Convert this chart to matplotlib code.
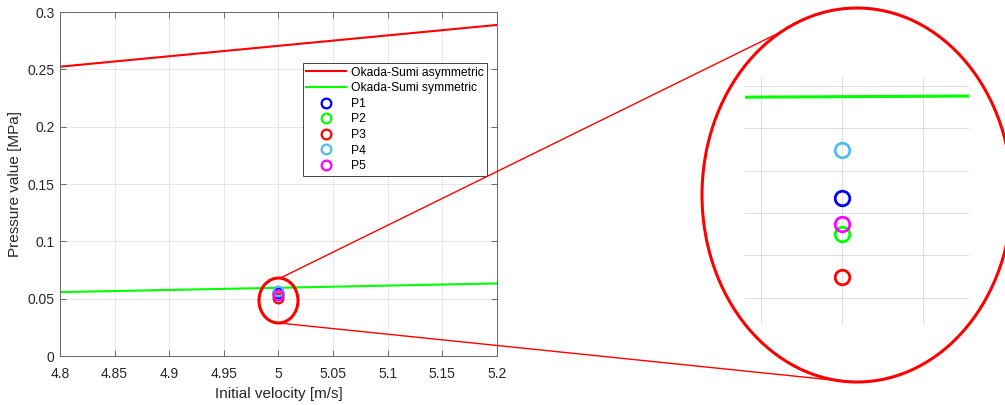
import numpy as np
import matplotlib
matplotlib.use("Agg")
import matplotlib.pyplot as plt
from matplotlib.patches import Ellipse

plt.rcParams['font.family'] = ['Liberation Sans', 'DejaVu Sans']

# data
velocity = [4.8, 5.2]
p_asym = [0.2523, 0.2887]
p_sym = [0.0557, 0.0633]

point_names = ["P1", "P2", "P3", "P4", "P5"]
point_v = [5.0, 5.0, 5.0, 5.0, 5.0]
point_p = [0.0547, 0.0530, 0.0510, 0.0570, 0.0535]
point_colors = ["#0000ff", "#00ff00", "#ff0000", "#4dbeee", "#ff00ff"]

xticks = [4.8, 4.85, 4.9, 4.95, 5.0, 5.05, 5.1, 5.15, 5.2]
xticklabels = ["4.8", "4.85", "4.9", "4.95", "5", "5.05", "5.1", "5.15", "5.2"]
yticks = [0, 0.05, 0.1, 0.15, 0.2, 0.25, 0.3]
yticklabels = ["0", "0.05", "0.1", "0.15", "0.2", "0.25", "0.3"]

W, H = 1005, 405
txt = "#262626"
fig = plt.figure(figsize=(W / 100, H / 100), dpi=100)

# main axes
ax = fig.add_axes([60 / W, 1 - 356 / H, 437 / W, 344 / H])
ax.plot(velocity, p_asym, color="#ff0000", lw=1.5, label="Okada-Sumi asymmetric")
ax.plot(velocity, p_sym, color="#00ff00", lw=1.5, label="Okada-Sumi symmetric")
for v, p, c, n in zip(point_v, point_p, point_colors, point_names):
    ax.plot(v, p, 'o', mfc="none", mec=c, mew=1.6, ms=7, label=n, ls="none")
ax.set_xlim(4.8, 5.2)
ax.set_ylim(0, 0.3)
ax.set_xticks(xticks)
ax.set_xticklabels(xticklabels)
ax.set_yticks(yticks)
ax.set_yticklabels(yticklabels)
ax.tick_params(direction="in", length=4, width=0.6, colors="#555555", labelcolor=txt,
               labelsize=10, top=True, right=True)
ax.tick_params(axis="x", pad=8)
ax.tick_params(axis="y", pad=4)
for s in ax.spines.values():
    s.set_color("#666666")
    s.set_linewidth(0.7)
ax.grid(True, color="#e3e3e3", lw=0.6)
ax.set_axisbelow(True)
ax.set_xlabel("Initial velocity [m/s]", fontsize=11, color=txt, labelpad=4)
ax.set_ylabel("Pressure value [MPa]", fontsize=11, color=txt, labelpad=4)
leg = ax.legend(loc="upper right", bbox_to_anchor=(0.977, 0.852), borderaxespad=0,
                fontsize=8.7, fancybox=False, framealpha=1, edgecolor="#444444",
                handlelength=3.3, handletextpad=0.35, labelspacing=0.3,
                borderpad=0.3)
leg.get_frame().set_linewidth(0.7)

# small ellipse around the points (data units)
zc = (5.0, 0.0484)
zw, zh = 0.0357, 0.0392
ax.add_patch(Ellipse(zc, zw, zh, fill=False, ec="#ff0000", lw=2.2, zorder=5))

# zoomed inset
ax2 = fig.add_axes([745 / W, 1 - 324 / H, 224 / W, 247 / H])
ax2.plot(velocity, p_asym, color="#ff0000", lw=2.2)
ax2.plot(velocity, p_sym, color="#00ff00", lw=2.2)
for v, p, c in zip(point_v, point_p, point_colors):
    ax2.plot(v, p, 'o', mfc="none", mec=c, mew=2.0, ms=10.5)
ax2.set_xlim(4.998802, 5.001568)
ax2.set_ylim(0.04876, 0.06043)
ax2.set_xticks([4.999, 5.0, 5.001])
ax2.set_yticks([0.05, 0.052, 0.054, 0.056, 0.058, 0.06])
ax2.tick_params(length=0, labelbottom=False, labelleft=False)
for s in ax2.spines.values():
    s.set_visible(False)
ax2.grid(True, color="#dddddd", lw=0.7)
ax2.set_axisbelow(True)
ax2.patch.set_alpha(0)

# overlay in pixel coordinates for the magnifier
ov = fig.add_axes([0, 0, 1, 1], zorder=10)
ov.set_xlim(0, W)
ov.set_ylim(H, 0)
ov.axis("off")
ov.patch.set_alpha(0)

bc, ba, bb = (857, 195), 155, 187
ov.add_patch(Ellipse(bc, 2 * ba, 2 * bb, fill=False, ec="#ff0000", lw=2.2, clip_on=False))


def small_pt(t):
    t = np.radians(t)
    d = ax.transData.transform((zc[0] + zw / 2 * np.cos(t), zc[1] + zh / 2 * np.sin(t)))
    return d[0], H - d[1]


def big_pt(t):
    t = np.radians(t)
    return bc[0] + ba * np.cos(t), bc[1] - bb * np.sin(t)


for ts, tb in [(85, 119), (270, 263)]:
    x0, y0 = small_pt(ts)
    x1, y1 = big_pt(tb)
    ov.plot([x0, x1], [y0, y1], color="#ff0000", lw=1.0)

fig.savefig("out.png", dpi=100)
